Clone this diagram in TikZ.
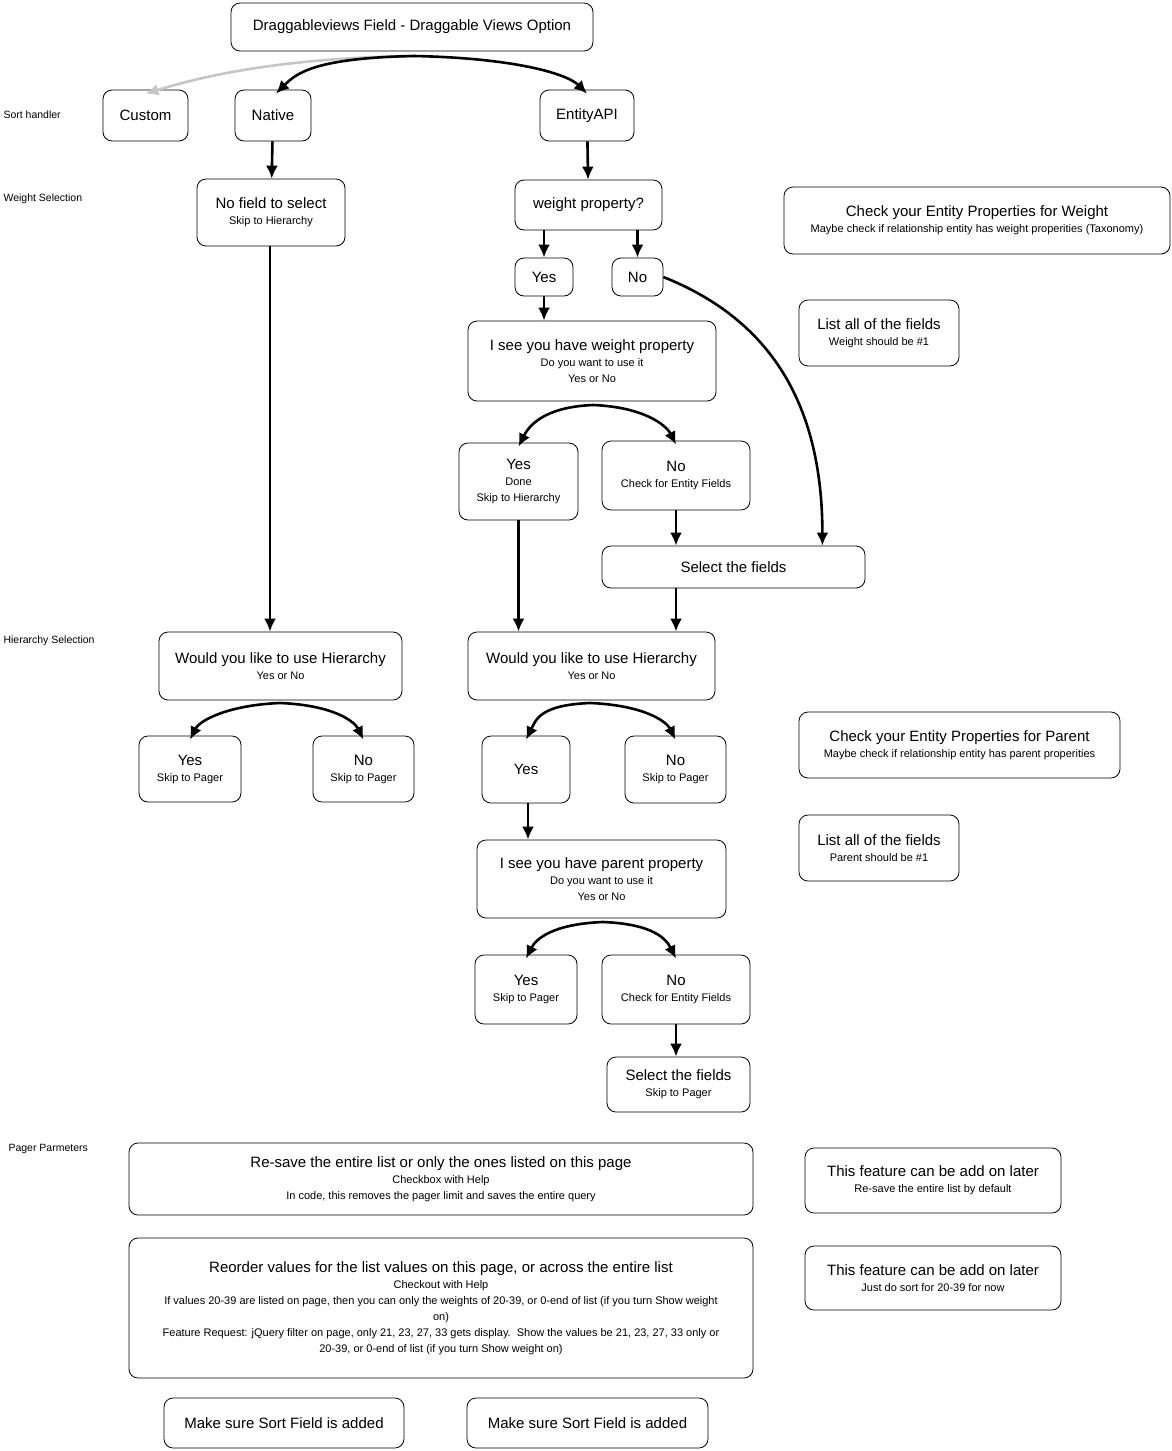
\documentclass[tikz,border=0pt]{standalone}
\usepackage{fontspec}
\setmainfont{Liberation Sans}
\usetikzlibrary{arrows.meta}
\newcommand{\bigtxt}{\fontsize{15}{17}\selectfont}
\newcommand{\smalltxt}{\fontsize{11}{14}\selectfont}
\newcommand{\subtxt}[1]{\\[-1pt]\smalltxt #1}
\newcommand{\nl}{\\[-1pt]\smalltxt}
\tikzset{
  box/.style={draw, thick, rounded corners=9pt, align=center, inner sep=0pt, font=\bigtxt},
  flow/.style={-{Latex[length=13pt,width=12pt]}, line width=2.6pt},
  side/.style={anchor=west, font=\fontsize{10.5}{12}\selectfont}
}
% box from corner to corner
\newcommand{\bx}[6]{\node[box, minimum width=#4-#2, minimum height=#5-#3] (#1) at ({(#2+#4)/2},{(#3+#5)/2}) {#6};}
\begin{document}
\begin{tikzpicture}[x=1pt,y=-1pt]
\useasboundingbox (0,0) rectangle (1172,1451);

\node[side] (lsort) at (0,115) {Sort handler};
\node[side] (lweight) at (0,199) {Weight Selection};
\node[side] (lhier) at (0,641) {Hierarchy Selection};
\node[side] (lpager) at (5,1149) {Pager Parmeters};

\bx{title}{231}{3}{593}{51}{Draggableviews Field - Draggable Views Option}
\bx{custom}{103}{90}{188}{141}{Custom}
\bx{native}{235}{90}{311}{141}{Native}
\bx{entity}{540}{90}{634}{141}{EntityAPI}
\bx{nofield}{197}{179}{345}{246}{No field to select\subtxt{Skip to Hierarchy}}
\bx{wprop}{515}{180}{662}{230}{weight property?}
\bx{checkw}{784}{187}{1170}{254}{Check your Entity Properties for Weight\subtxt{Maybe check if relationship entity has weight properities (Taxonomy)}}
\bx{wyes}{515}{258}{573}{296}{Yes}
\bx{wno}{612}{258}{663}{296}{No}
\bx{listw}{799}{300}{959}{366}{List all of the fields\subtxt{Weight should be \#1}}
\bx{seew}{468}{321}{716}{401}{I see you have weight property\subtxt{Do you want to use it\nl Yes or No}}
\bx{seewyes}{459}{443}{578}{520}{Yes\subtxt{Done\nl Skip to Hierarchy}}
\bx{seewno}{602}{441}{750}{510}{No\subtxt{Check for Entity Fields}}
\bx{selw}{602}{546}{865}{588}{Select the fields}
\bx{hierl}{159}{632}{402}{700}{Would you like to use Hierarchy\subtxt{Yes or No}}
\bx{hierr}{468}{632}{715}{700}{Would you like to use Hierarchy\subtxt{Yes or No}}
\bx{checkp}{799}{712}{1120}{778}{Check your Entity Properties for Parent\subtxt{Maybe check if relationship entity has parent properities}}
\bx{hlyes}{139}{736}{241}{802}{Yes\subtxt{Skip to Pager}}
\bx{hlno}{313}{736}{414}{802}{No\subtxt{Skip to Pager}}
\bx{hryes}{482}{736}{570}{803}{Yes}
\bx{hrno}{625}{736}{726}{803}{No\subtxt{Skip to Pager}}
\bx{listp}{799}{815}{959}{881}{List all of the fields\subtxt{Parent should be \#1}}
\bx{seep}{477}{840}{726}{918}{I see you have parent property\subtxt{Do you want to use it\nl Yes or No}}
\bx{seepyes}{475}{955}{577}{1024}{Yes\subtxt{Skip to Pager}}
\bx{seepno}{602}{955}{750}{1024}{No\subtxt{Check for Entity Fields}}
\bx{selp}{607}{1057}{750}{1112}{Select the fields\subtxt{Skip to Pager}}
\bx{resave}{129}{1143}{753}{1215}{Re-save the entire list or only the ones listed on this page\subtxt{Checkbox with Help\nl In code, this removes the pager limit and saves the entire query}}
\bx{feat1}{805}{1148}{1061}{1213}{This feature can be add on later\subtxt{Re-save the entire list by default}}
\bx{reorder}{129}{1238}{753}{1378}{Reorder values for the list values on this page, or across the entire list\subtxt{Checkout with Help\nl If values 20-39 are listed on page, then you can only the weights of 20-39, or 0-end of list (if you turn Show weight\nl on)\nl Feature Request: jQuery filter on page, only 21, 23, 27, 33 gets display.\ \ Show the values be 21, 23, 27, 33 only or\nl 20-39, or 0-end of list (if you turn Show weight on)}}
\bx{feat2}{805}{1246}{1061}{1310}{This feature can be add on later\subtxt{Just do sort for 20-39 for now}}
\bx{sortl}{164}{1398}{404}{1448}{Make sure Sort Field is added}
\bx{sortr}{467}{1398}{708}{1448}{Make sure Sort Field is added}

\coordinate (tfork) at (414,56);
\coordinate (wfork) at (593,405);
\coordinate (hlfork) at (280,703);
\coordinate (hrfork) at (590,703);
\coordinate (pfork) at (603,922);

\draw[flow, gray!45] (tfork) .. controls +(-150,2) and +(40,-12) .. ([yshift=-4pt]custom.north);
\draw[flow] (tfork) .. controls +(-100,2) and +(20,-20) .. ([xshift=3pt,yshift=-4pt]native.north);
\draw[flow] (tfork) .. controls +(100,2) and +(-20,-20) .. ([yshift=-4pt]entity.north);
\draw[flow] (native) -- (nofield);
\draw[flow] (entity) -- (wprop);
\draw[flow] (wprop.south -| wyes) -- (wyes);
\draw[flow] (wprop.south -| wno) -- (wno);
\draw[flow] (wyes) -- (seew.north -| wyes);
\draw[flow] (wno.east) .. controls +(100,40) and +(0,-150) .. ([xshift=-43pt]selw.north east);
\draw[flow] (wfork) .. controls +(-50,2) and +(10,-20) .. ([yshift=-4pt]seewyes.north);
\draw[flow] (wfork) .. controls +(50,2) and +(-10,-20) .. ([yshift=-4pt]seewno.north);
\draw[flow] (seewno) -- (selw.north -| seewno);
\draw[flow] (seewyes) -- (hierr.north -| seewyes);
\draw[flow] (nofield.south -| 270,0) -- (hierl.north -| 270,0);
\draw[flow] (selw.south -| seewno) -- (hierr.north -| seewno);
\draw[flow] (hlfork) .. controls +(-50,2) and +(10,-20) .. ([yshift=-4pt]hlyes.north);
\draw[flow] (hlfork) .. controls +(50,2) and +(-10,-20) .. ([yshift=-4pt]hlno.north);
\draw[flow] (hrfork) .. controls +(-50,2) and +(10,-20) .. ([yshift=-4pt]hryes.north);
\draw[flow] (hrfork) .. controls +(50,2) and +(-10,-20) .. ([yshift=-4pt]hrno.north);
\draw[flow] ([xshift=2pt]hryes.south) -- (seep.north -| 528,0);
\draw[flow] (pfork) .. controls +(-50,2) and +(10,-20) .. ([yshift=-4pt]seepyes.north);
\draw[flow] (pfork) .. controls +(50,2) and +(-10,-20) .. ([yshift=-4pt]seepno.north);
\draw[flow] (seepno) -- (selp.north -| seepno);
\end{tikzpicture}
\end{document}
